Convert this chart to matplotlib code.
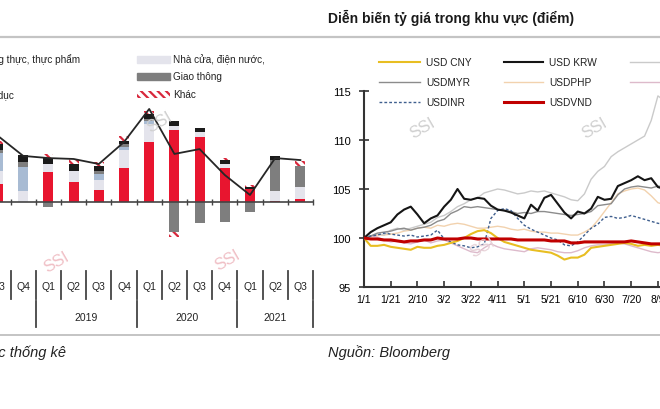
import numpy as np
import pandas as pd
import matplotlib
matplotlib.use("Agg")
import matplotlib.pyplot as plt
import matplotlib.transforms as mtransforms
from matplotlib.lines import Line2D
from matplotlib.patches import Rectangle

plt.rcParams['font.family'] = ['Liberation Sans Narrow', 'Liberation Sans', 'DejaVu Sans']
plt.rcParams['hatch.linewidth'] = 1.6

W, H = 660, 410

# ---------------- left chart: CPI contributions by group ----------------
quarters = ['Q3', 'Q4', 'Q1', 'Q2', 'Q3', 'Q4', 'Q1', 'Q2', 'Q3', 'Q4', 'Q1', 'Q2', 'Q3']
q_years = [2018, 2018, 2019, 2019, 2019, 2019, 2020, 2020, 2020, 2020, 2021, 2021, 2021]

food = [1.0, 0.0, 1.65, 1.1, 0.65, 1.9, 3.35, 4.0, 3.6, 1.9, 0.72, 0.05, 0.15]
housing = [0.7, 0.6, 0.45, 0.65, 0.6, 1.0, 1.0, 0.25, 0.28, 0.22, 0.0, 0.55, 0.67]
health = [1.0, 1.35, 0.0, 0.0, 0.3, 0.15, 0.17, 0.0, 0.0, 0.0, 0.0, 0.0, 0.0]
transport = [0.2, 0.3, -0.28, 0.0, 0.15, 0.15, 0.1, -1.67, -1.17, -1.1, -0.55, 1.72, 1.17]
education = [0.3, 0.35, 0.32, 0.37, 0.3, 0.2, 0.25, 0.25, 0.22, 0.22, 0.12, 0.22, 0.0]
other = [0.2, 0.0, 0.24, 0.28, 0.2, 0.25, 0.2, -0.28, 0.0, 0.12, 0.1, 0.0, 0.28]
cpi = [3.67, 2.56, 2.44, 2.39, 2.11, 3.33, 5.17, 2.67, 2.94, 1.5, 0.39, 2.44, 2.33]

groups = ['Lương thực, thực phẩm', 'Nhà cửa, điện nước,', 'Y tế',
          'Giao thông', 'Giáo dục', 'Khác']

# ---------------- right chart: regional FX (index, 1/1 = 100) ----------------
fx_dates = pd.date_range('2021-01-01', periods=47, freq='5D')
usd_cny = [100, 99.2, 99.2, 99.3, 99.1, 99.0, 98.9, 98.8, 99.1, 99.0, 99.0, 99.2, 99.3, 99.5,
           99.7, 100.0, 100.4, 100.7, 100.8, 100.5, 100.0, 99.6, 99.4, 99.2, 99.0, 98.8, 98.7,
           98.6, 98.5, 98.2, 97.8, 98.0, 98.0, 98.3, 99.0, 99.1, 99.2, 99.3, 99.4, 99.5, 99.4,
           99.2, 99.3, 99.2, 99.3, 99.2, 99.3]
usd_krw = [100, 100.6, 101.0, 101.3, 101.6, 102.4, 102.9, 103.2, 102.4, 101.5, 102.0, 102.3,
           103.2, 103.9, 105.0, 104.0, 103.9, 104.1, 104.0, 103.3, 102.9, 102.8, 102.6, 102.3,
           102.0, 103.4, 102.8, 104.1, 104.4, 103.5, 102.6, 102.0, 102.7, 102.5, 103.0, 104.2,
           103.9, 104.0, 105.3, 105.6, 105.9, 106.3, 105.9, 106.1, 105.2, 105.0, 105.4]
usd_thb = [100, 100.2, 100.4, 100.3, 100.8, 101.0, 100.8, 101.0, 101.2, 101.4, 101.6, 102.1,
           102.3, 102.7, 103.2, 103.5, 103.9, 104.1, 104.6, 104.8, 105.0, 104.9, 104.7, 104.5,
           104.6, 104.8, 104.7, 104.8, 104.6, 104.4, 104.2, 103.9, 103.8, 104.5, 106.0, 106.8,
           107.3, 108.3, 108.8, 109.2, 109.6, 110.0, 110.4, 112.0, 114.5, 114.0, 114.2]
usd_myr = [100, 100.2, 100.5, 100.6, 100.7, 100.9, 101.0, 100.8, 101.0, 101.1, 101.3, 101.7,
           101.9, 102.5, 102.8, 103.2, 103.1, 103.2, 103.1, 103.0, 102.9, 102.8, 102.7, 102.5,
           102.6, 102.5, 102.7, 102.7, 102.6, 102.5, 102.4, 102.3, 102.4, 102.5, 102.7, 103.3,
           103.4, 103.5, 104.4, 105.0, 105.2, 105.3, 105.2, 105.1, 105.3, 105.2, 105.1]
usd_php = [100, 100.1, 100.3, 100.3, 100.4, 100.5, 100.7, 100.8, 101.0, 101.1, 101.0, 101.3,
           101.2, 101.4, 101.5, 101.4, 101.2, 101.0, 101.0, 101.1, 101.2, 101.1, 100.9, 100.8,
           100.9, 100.7, 100.6, 100.6, 100.5, 100.5, 100.4, 100.3, 100.3, 100.6, 101.0, 101.8,
           102.7, 103.6, 104.5, 104.8, 105.0, 105.1, 104.9, 104.3, 103.6, 103.4, 103.5]
usd_twd = [100, 100.2, 100.1, 99.8, 99.6, 99.7, 99.5, 99.4, 99.6, 99.8, 99.5, 99.7, 99.8, 99.5,
           99.2, 98.9, 98.6, 98.5, 99.0, 99.4, 99.1, 98.9, 98.8, 98.7, 98.6, 98.9, 99.0, 98.9,
           98.8, 98.6, 98.5, 98.5, 98.7, 99.0, 99.2, 99.3, 99.3, 99.4, 99.5, 99.4, 99.2, 99.0,
           98.8, 98.6, 98.5, 98.6, 98.6]
usd_inr = [100, 100.2, 100.3, 100.5, 100.4, 100.3, 100.2, 100.3, 100.1, 100.2, 100.3, 100.8,
           99.9, 99.6, 99.3, 99.2, 99.0, 99.1, 99.4, 102.0, 102.8, 103.0, 102.8, 102.0, 101.3,
           100.9, 100.6, 100.3, 100.0, 99.8, 99.3, 99.2, 99.6, 100.3, 101.0, 101.4, 102.1, 102.2,
           102.0, 102.1, 102.3, 102.1, 101.9, 101.7, 101.5, 101.4, 101.5]
usd_vnd = [100, 99.9, 99.9, 99.8, 99.8, 99.7, 99.6, 99.7, 99.7, 99.8, 99.8, 100.0, 99.9, 99.9,
           99.9, 100.0, 100.0, 99.9, 99.9, 99.9, 99.9, 99.9, 99.9, 99.8, 99.8, 99.8, 99.8, 99.8,
           99.7, 99.7, 99.7, 99.5, 99.5, 99.6, 99.6, 99.6, 99.6, 99.6, 99.6, 99.6, 99.7, 99.6,
           99.5, 99.4, 99.4, 99.4, 99.4]
fx_ticks = pd.date_range('2021-01-01', periods=12, freq='20D')


def px(x, y):
    return x / W, 1 - y / H


fig = plt.figure(figsize=(W / 100, H / 100), dpi=100)
fig.patch.set_facecolor('white')

# separators and titles
fig.add_artist(Line2D([0, 1], [1 - 38 / H] * 2, color='#c4c4c4', lw=1.6, transform=fig.transFigure))
fig.add_artist(Line2D([0, 1], [1 - 336 / H] * 2, color='#c4c4c4', lw=1.4, transform=fig.transFigure))
fig.text(*px(328, 18), 'Diễn biến tỷ giá trong khu vực (điểm)', fontsize=10, fontweight='bold',
         color='#1a1a1a', va='center', ha='left')
fig.text(*px(66, 353), 'Nguồn: Tổng cục thống kê', fontsize=10.5, style='italic',
         color='#222', va='center', ha='right')
fig.text(*px(328, 353), 'Nguồn: Bloomberg', fontsize=10.5, style='italic',
         color='#222', va='center', ha='left')

# ---------------- left chart ----------------
ax = fig.add_axes([-14.6 / W, 1 - 257 / H, 327.6 / W, 162 / H])
x = np.arange(len(quarters))
styles = [dict(color='#E8152F'),
          dict(color='#E4E4EC'),
          dict(color='#A8BBD3'),
          dict(color='#7E7E7E'),
          dict(color='#1b1b1b'),
          dict(facecolor='white', edgecolor='#D8283C', hatch='\\\\\\\\', lw=0)]
comps = [food, housing, health, transport, education, other]
pos_base = np.zeros(len(x))
neg_base = np.zeros(len(x))
for vals, st in zip(comps, styles):
    v = np.array(vals)
    base = np.where(v >= 0, pos_base, neg_base)
    ax.bar(x, v, width=0.4, bottom=base, **st)
    pos_base += np.clip(v, 0, None)
    neg_base += np.clip(v, None, 0)
ax.plot(x, cpi, color='#262626', lw=1.3, zorder=5)

ax.set_xlim(-0.5, len(quarters) - 0.5)
ax.set_ylim(-3, 6)
for s in ['left', 'right', 'top']:
    ax.spines[s].set_visible(False)
ax.spines['bottom'].set_position(('data', 0))
ax.spines['bottom'].set_color('#444')
ax.spines['bottom'].set_linewidth(1.2)
ax.set_yticks([])
ax.set_xticks(np.arange(-0.5, len(quarters), 1))
ax.set_xticklabels([])
ax.tick_params(axis='x', direction='inout', length=5, width=1, color='#444')
ax.set_facecolor('none')

blend = mtransforms.blended_transform_factory(ax.transData, fig.transFigure)
for i, q in enumerate(quarters):
    fig.text(i, 1 - 287 / H, q, transform=blend, ha='center', va='center', fontsize=7.5, color='#222')
for b in np.arange(-0.5, len(quarters), 1):
    fig.add_artist(Line2D([b, b], [1 - 272 / H, 1 - 300 / H], color='#444', lw=1.3, transform=blend))
# year groups
yrs = sorted(set(q_years))
for yv in yrs:
    idx = [i for i, qy in enumerate(q_years) if qy == yv]
    lo, hi = idx[0] - 0.5, idx[-1] + 0.5
    if yv == yrs[0]:
        lo = hi - 4
    fig.text((lo + hi) / 2, 1 - 318 / H, str(yv), transform=blend, ha='center', va='center',
             fontsize=7.5, color='#222')
    fig.add_artist(Line2D([hi, hi], [1 - 302 / H, 1 - 328 / H], color='#444', lw=1.3, transform=blend))

# left legend (row-wise, first column mostly cut off)
leg_cols = [-62, 137]
leg_rows = [60, 77, 95]
for k, (g, st) in enumerate(zip(groups, styles)):
    cx = leg_cols[k % 2]
    cy = leg_rows[k // 2]
    r = Rectangle(px(cx, cy + 3.5), 33 / W, 7 / H, transform=fig.transFigure, **st)
    fig.add_artist(r)
    fig.text(*px(cx + 36, cy), g, fontsize=7.2, color='#222', va='center', ha='left')

# watermarks
for (wx, wy, c) in [(160, 122, '#d0d0d0'), (57, 262, '#f0c0c6'), (228, 260, '#f0c0c6'),
                    (423, 128, '#d0d0d0'), (595, 128, '#d0d0d0'), (483, 247, '#e6d0d6')]:
    fig.text(*px(wx, wy), 'SSI', fontsize=12, rotation=30, color=c, ha='center', va='center', zorder=0)

# ---------------- right chart ----------------
ax2 = fig.add_axes([364 / W, 1 - 288 / H, 334 / W, 196 / H])
ax2.set_facecolor('none')
series = [
    ('USD CNY', usd_cny, dict(color='#E8BE22', lw=1.5)),
    ('USDMYR', usd_myr, dict(color='#8c8c8c', lw=1.0)),
    ('USDINR', usd_inr, dict(color='#3F5F8E', lw=1.0, ls=(0, (2, 1.5)))),
    ('USD KRW', usd_krw, dict(color='#151515', lw=1.5)),
    ('USDPHP', usd_php, dict(color='#F2D2AE', lw=1.0)),
    ('USDVND', usd_vnd, dict(color='#C00000', lw=2.2)),
    ('USDTHB', usd_thb, dict(color='#cacaca', lw=1.0)),
    ('USDTWD', usd_twd, dict(color='#DDBACB', lw=1.0)),
]
zorders = {'USDTHB': 1, 'USDTWD': 1, 'USDPHP': 1, 'USDINR': 2, 'USDMYR': 2,
           'USD CNY': 3, 'USD KRW': 4, 'USDVND': 5}
for name, vals, st in series:
    ax2.plot(fx_dates, vals, zorder=zorders[name], **st)

ax2.set_xlim(pd.Timestamp('2021-01-01'), pd.Timestamp('2021-01-01') + pd.Timedelta(days=250))
ax2.set_ylim(95, 115)
ax2.set_yticks([95, 100, 105, 110, 115])
ax2.set_xticks(fx_ticks)
ax2.set_xticklabels([f'{d.month}/{d.day}' for d in fx_ticks])
for s in ['right', 'top']:
    ax2.spines[s].set_visible(False)
for s in ['left', 'bottom']:
    ax2.spines[s].set_color('#333')
    ax2.spines[s].set_linewidth(1.5)
ax2.tick_params(axis='y', direction='inout', length=7, width=1.2, color='#333', labelsize=8, pad=6)
ax2.tick_params(axis='x', direction='in', length=4, width=1.2, color='#333', labelsize=7.5, pad=5)

# right legend (row-wise, 3 columns)
lg_cols = [(379, 420), (504, 543), (630, 670)]
lg_rows = [63, 83, 103]
order = ['USD CNY', 'USD KRW', 'USDTHB', 'USDMYR', 'USDPHP', 'USDTWD', 'USDINR', 'USDVND']
lookup = {n: st for n, _, st in series}
for k, name in enumerate(order):
    (x0, x1) = lg_cols[k % 3]
    yy = lg_rows[k // 3]
    fig.add_artist(Line2D([x0 / W, x1 / W], [1 - yy / H] * 2, transform=fig.transFigure, **lookup[name]))
    fig.text(*px(x1 + 6, yy), name, fontsize=7.3, color='#222', va='center', ha='left')

fig.savefig('out.png', dpi=100)
